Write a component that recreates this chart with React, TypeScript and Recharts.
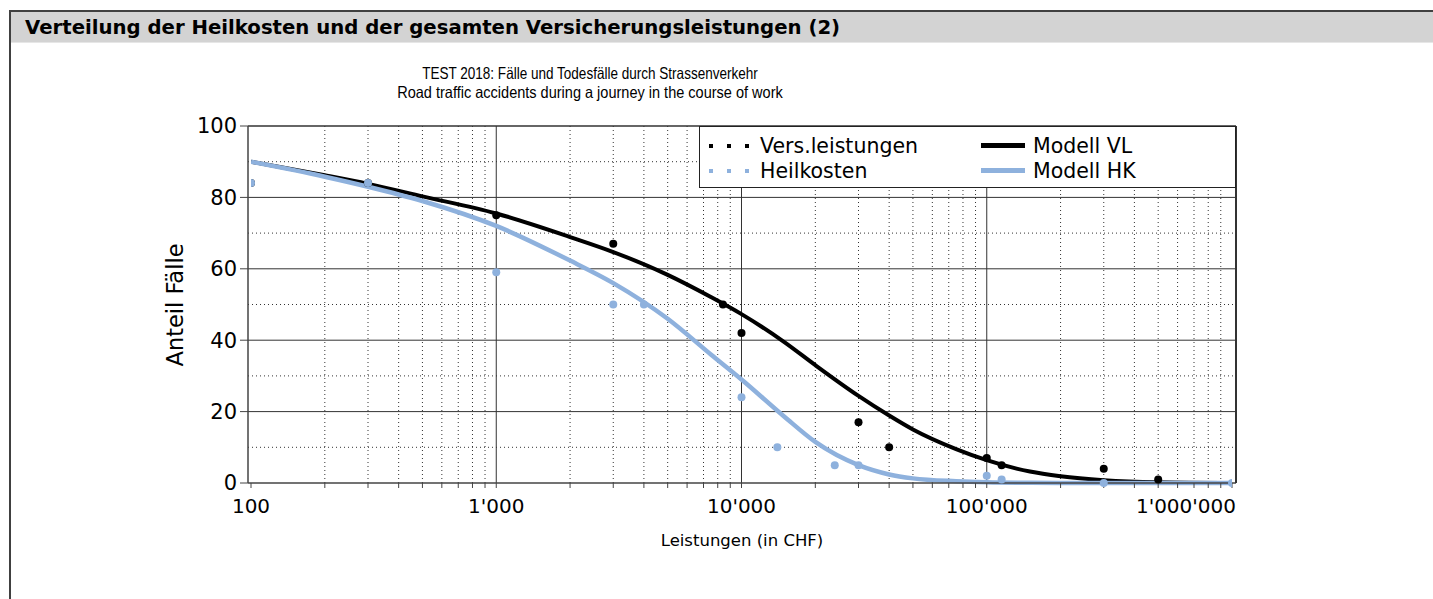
import { ComposedChart, Line, Scatter, XAxis, YAxis, ReferenceLine } from 'recharts'

const FONT = '"DejaVu Sans", Verdana, sans-serif'
const SANS = '"Liberation Sans", Arial, sans-serif'
const BLUE = '#8eb1dd'
const GRID = '#333'

// model curves
const modelX = [100, 200, 300, 500, 1000, 2000, 3000, 5000, 7500, 10000, 15000, 20000, 30000, 40000, 50000, 75000, 100000, 150000, 200000, 300000, 500000, 1000000]
const modelVL = [90, 86.2, 83.8, 80.3, 75.5, 68.9, 64.7, 58.3, 52.1, 47.3, 39.4, 33, 24.4, 18.9, 15, 9.5, 6.4, 3.2, 1.9, 0.8, 0.2, 0]
const modelHK = [90, 85.8, 83, 79, 72, 62.3, 56, 46, 36, 29, 18.5, 11.5, 5, 2.4, 1.3, 0.5, 0.2, 0.05, 0, 0, 0, 0]

// observed values
const vlX = [100, 300, 1000, 3000, 8400, 10000, 30000, 40000, 100000, 115000, 300000, 500000]
const vlY = [84, 84, 75, 67, 50, 42, 17, 10, 7, 5, 4, 1]
const hkX = [100, 300, 1000, 3000, 4000, 10000, 14000, 24000, 30000, 100000, 115000, 300000, 1000000]
const hkY = [84, 84, 59, 50, 50, 24, 10, 5, 5, 2, 1, 0, 0]

const decades = [100, 1000, 10000, 100000, 1000000]
const yTicks = [0, 20, 40, 60, 80, 100]
const majorXGrid = [1000, 10000, 100000]
const majorYGrid = [20, 40, 60, 80]
const minorYGrid = [10, 30, 50, 70, 90]
const minorX = decades.slice(0, -1).flatMap(d => [2, 3, 4, 5, 6, 7, 8, 9].map(k => k * d))
const xTicks = [...decades, ...minorX].sort((a, b) => a - b)

const vlModel = modelX.map((x, i) => ({ x, y: modelVL[i] }))
const hkModel = modelX.map((x, i) => ({ x, y: modelHK[i] }))
const vlPts = vlX.map((x, i) => ({ x, y: vlY[i] }))
const hkPts = hkX.map((x, i) => ({ x, y: hkY[i] }))

const fmt = (v: number) => String(v).replace(/\B(?=(\d{3})+(?!\d))/g, "'")

function XTick(props: any) {
  const { x, y, payload } = props
  const v = payload.value
  if (!decades.includes(v)) return null
  const last = v === 1000000
  return (
    <text x={last ? x + 4 : x} y={y + 23} textAnchor={last ? 'end' : 'middle'}
      fill="#000" fontSize={20} fontFamily={FONT}>
      {fmt(v)}
    </text>
  )
}

const Dots = ({ color }: { color: string }) => (
  <svg width={44} height={8} style={{ display: 'block' }}>
    {[1, 19, 37].map(cx => <rect key={cx} x={cx} y={2} width={4} height={4} fill={color} />)}
  </svg>
)

const Bar = ({ color }: { color: string }) => (
  <div style={{ width: 44, height: 5, background: color }} />
)

function LegendBox() {
  const row = (sym: any, label: string) => (
    <div style={{ display: 'flex', alignItems: 'center', height: 25 }}>
      <div style={{ width: 52, display: 'flex', alignItems: 'center' }}>{sym}</div>
      <span>{label}</span>
    </div>
  )
  return (
    <div style={{
      position: 'absolute', left: 699, top: 126, width: 537, height: 62,
      border: '1px solid #222', background: '#fff', boxSizing: 'border-box',
      fontFamily: FONT, fontSize: 20.5, color: '#000',
      display: 'flex', padding: '6px 0 0 8px',
    }}>
      <div style={{ width: 273 }}>
        {row(<Dots color="#000" />, 'Vers.leistungen')}
        {row(<Dots color={BLUE} />, 'Heilkosten')}
      </div>
      <div>
        {row(<Bar color="#000" />, 'Modell VL')}
        {row(<Bar color={BLUE} />, 'Modell HK')}
      </div>
    </div>
  )
}

const subLine = (text: string, top: number, sx: number) => (
  <div style={{
    position: 'absolute', left: 290, width: 600, top, textAlign: 'center',
    fontFamily: SANS, fontSize: 16.5, lineHeight: '19px', color: '#000',
    transform: `scaleX(${sx})`, whiteSpace: 'nowrap',
  }}>{text}</div>
)

export default function App() {
  return (
    <div style={{ position: 'absolute', left: 0, top: 0, width: 1433, height: 599, background: '#fff', overflow: 'hidden' }}>
      {/* frame + title bar */}
      <div style={{
        position: 'absolute', left: 9, top: 10, width: 1433, height: 600,
        borderLeft: '2px solid #404040', borderTop: '2px solid #404040',
      }} />
      <div style={{
        position: 'absolute', left: 11, top: 12, width: 1422, height: 31,
        background: '#d3d3d3', borderBottom: '1px solid #e6e6e6',
        fontFamily: FONT, fontWeight: 'bold', fontSize: 19.7, color: '#000',
        lineHeight: '31px', paddingLeft: 14, boxSizing: 'border-box', whiteSpace: 'nowrap',
      }}>
        Verteilung der Heilkosten und der gesamten Versicherungsleistungen (2)
      </div>

      {subLine('TEST 2018: Fälle und Todesfälle durch Strassenverkehr', 64, 0.82)}
      {subLine('Road traffic accidents during a journey in the course of work', 83, 0.88)}

      <div style={{ position: 'absolute', left: 0, top: 0 }}>
        <ComposedChart width={1433} height={599} margin={{ top: 126, right: 197, bottom: 86, left: 188 }}>
          <XAxis dataKey="x" type="number" scale="log" domain={[100, 1000000]} allowDataOverflow
            ticks={xTicks} interval={0} tick={<XTick />} tickSize={5} tickMargin={2}
            padding={{ left: 3, right: 4 }} height={30}
            axisLine={{ stroke: '#444', strokeWidth: 1.5 }} tickLine={{ stroke: '#444' }} />
          <YAxis dataKey="y" type="number" domain={[0, 100]} ticks={yTicks} width={60}
            tick={{ fill: '#000', fontSize: 21, fontFamily: FONT }} tickSize={8} tickMargin={3}
            axisLine={{ stroke: '#444', strokeWidth: 1.5 }} tickLine={{ stroke: '#444' }} />

          {minorX.map(v => <ReferenceLine key={'mx' + v} x={v} stroke={GRID} strokeDasharray="1 3" />)}
          {minorYGrid.map(v => <ReferenceLine key={'my' + v} y={v} stroke={GRID} strokeDasharray="1 3" />)}
          {majorXGrid.map(v => <ReferenceLine key={'gx' + v} x={v} stroke={GRID} />)}
          {majorYGrid.map(v => <ReferenceLine key={'gy' + v} y={v} stroke={GRID} />)}
          <ReferenceLine y={100} stroke={GRID} strokeWidth={1.5} />

          <Line data={vlModel} dataKey="y" type="monotone" stroke="#000" strokeWidth={4}
            dot={false} activeDot={false} isAnimationActive={false} />
          <Line data={hkModel} dataKey="y" type="monotone" stroke={BLUE} strokeWidth={4.5}
            dot={false} activeDot={false} isAnimationActive={false} />
          <Scatter data={vlPts} dataKey="y" fill="#000" shape={(p: any) => <circle cx={p.cx} cy={p.cy} r={4} fill="#000" />}
            isAnimationActive={false} />
          <Scatter data={hkPts} dataKey="y" fill={BLUE} shape={(p: any) => <circle cx={p.cx} cy={p.cy} r={4} fill={BLUE} />}
            isAnimationActive={false} />
        </ComposedChart>
      </div>

      {/* right border of the plot */}
      <div style={{ position: 'absolute', left: 1235, top: 126, width: 1.5, height: 357, background: '#333' }} />

      <LegendBox />

      <div style={{
        position: 'absolute', left: 742, top: 540, transform: 'translate(-50%, -50%)',
        fontFamily: FONT, fontSize: 16.5, whiteSpace: 'nowrap', color: '#000',
      }}>Leistungen (in CHF)</div>
      <div style={{
        position: 'absolute', left: 175, top: 305, transform: 'translate(-50%, -50%) rotate(-90deg)',
        fontFamily: FONT, fontSize: 22.5, whiteSpace: 'nowrap', color: '#000',
      }}>Anteil Fälle</div>
    </div>
  )
}
